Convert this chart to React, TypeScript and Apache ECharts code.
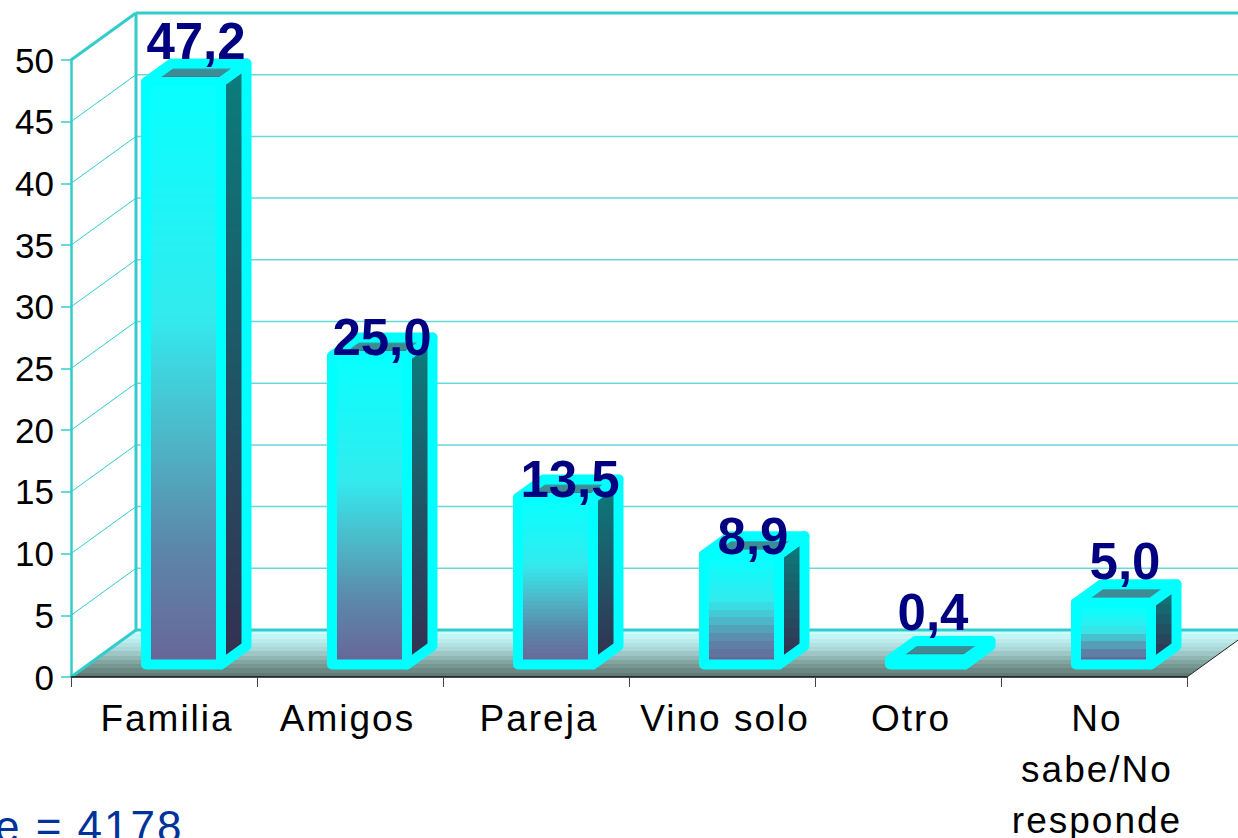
import React, { useEffect, useRef } from "react";
import * as echarts from "echarts";

const categories = ["Familia", "Amigos", "Pareja", "Vino solo", "Otro", "No\nsabe/No\nresponde"];
const values = [47.2, 25.0, 13.5, 8.9, 0.4, 5.0];
const yTicks = [0, 5, 10, 15, 20, 25, 30, 35, 40, 45, 50];
const note = "e = 4178";

// layout of the hand-placed value labels (pixels relative to the bar)
const labelLift = [23, 1, 0, 0, 29, 23];
const labelShift = [32, 32, 34, 31, 25, 31];

const FONT = '"Liberation Sans", Arial, sans-serif';
const TEAL = "#33cccc";
const WALL_DX = 65;
const WALL_DY = -47;
const BAR_DX = 25.5;
const BAR_DY = -18.5;
const BAR_W = 75;
const BAR_OFF_X = -18; // front face left edge from band centre
const BAR_OFF_Y = -12.5;

type RGB = [number, number, number];
type Ramp = [number, RGB][];

const FRONT_RAMP: Ramp = [
  [0, [8, 255, 255]],
  [0.4, [50, 235, 238]],
  [0.6, [76, 186, 202]],
  [0.8, [92, 135, 170]],
  [1, [104, 102, 152]],
];
const SIDE_RAMP: Ramp = [
  [0, [10, 125, 125]],
  [1, [52, 48, 80]],
];
const TOP_RAMP: Ramp = [
  [0, [50, 155, 160]],
  [1, [72, 122, 138]],
];
const FLOOR_RAMP: Ramp = [
  [0, [204, 255, 255]],
  [0.4, [170, 215, 215]],
  [0.7, [130, 165, 160]],
  [1, [96, 122, 118]],
];

function sample(ramp: Ramp, t: number) {
  for (let k = 1; k < ramp.length; k++) {
    if (t <= ramp[k][0]) {
      const [a, ca] = ramp[k - 1];
      const [b, cb] = ramp[k];
      const u = (t - a) / (b - a);
      return ca.map((v, n) => Math.round(v + (cb[n] - v) * u));
    }
  }
  return ramp[ramp.length - 1][1];
}

function steppedGradient(ramp: Ramp, steps: number) {
  const stops: { offset: number; color: string }[] = [];
  for (let i = 0; i < steps; i++) {
    const c = sample(ramp, steps === 1 ? 0 : i / (steps - 1));
    const color = `rgb(${c[0]},${c[1]},${c[2]})`;
    stops.push({ offset: i / steps, color });
    stops.push({ offset: (i + 1) / steps, color });
  }
  return new echarts.graphic.LinearGradient(0, 0, 0, 1, stops);
}

function renderWall(_p: any, api: any) {
  const [cx, y] = api.coord([0, api.value(1)]);
  const left = cx - api.size([1, 0])[0] / 2;
  const heavy = api.value(1) === 50 || api.value(1) === 0;
  return {
    type: "group",
    children: [
      {
        type: "line",
        shape: { x1: left, y1: y, x2: left + WALL_DX, y2: y + WALL_DY },
        style: { stroke: TEAL, lineWidth: heavy ? 3 : 1 },
      },
      {
        type: "line",
        shape: { x1: left + WALL_DX, y1: y + WALL_DY, x2: 1300, y2: y + WALL_DY },
        style: { stroke: TEAL, lineWidth: heavy ? 3 : 1.5, opacity: heavy ? 1 : 0.75 },
      },
    ],
  };
}

function renderFrame(_p: any, api: any) {
  const [cx, y0] = api.coord([0, 0]);
  const [, y50] = api.coord([0, 50]);
  const [cxLast] = api.coord([categories.length - 1, 0]);
  const half = api.size([1, 0])[0] / 2;
  const left = cx - half;
  const right = cxLast + half;
  return {
    type: "group",
    children: [
      {
        type: "polygon",
        shape: {
          points: [
            [left, y0],
            [left + WALL_DX, y0 + WALL_DY],
            [right + WALL_DX, y0 + WALL_DY],
            [right, y0],
          ],
        },
        style: { fill: steppedGradient(FLOOR_RAMP, 11) },
      },
      {
        type: "line",
        shape: { x1: left + WALL_DX, y1: y50 + WALL_DY, x2: left + WALL_DX, y2: y0 + WALL_DY },
        style: { stroke: TEAL, lineWidth: 3 },
      },
      {
        type: "line",
        shape: { x1: right, y1: y0, x2: right + WALL_DX, y2: y0 + WALL_DY },
        style: { stroke: "#222", lineWidth: 1 },
      },
    ],
  };
}

function renderBar(_p: any, api: any) {
  const i = api.value(0);
  const v = api.value(1);
  const [cx, y0] = api.coord([i, 0]);
  const [, yv] = api.coord([i, v]);
  const x1 = cx + BAR_OFF_X;
  const x2 = x1 + BAR_W;
  const yb = y0 + BAR_OFF_Y;
  const yt = yv + BAR_OFF_Y;
  const h = yb - yt;
  const steps = Math.max(2, Math.round(h / (h > 120 ? 4 : 8)));
  const border = { stroke: "#00ffff", lineWidth: 10, lineJoin: "round" };
  const children: any[] = [];
  children.push({
    type: "polygon",
    shape: {
      points: [
        [x2, yb],
        [x2 + BAR_DX, yb + BAR_DY],
        [x2 + BAR_DX, yt + BAR_DY],
        [x2, yt],
      ],
    },
    style: { ...border, fill: steppedGradient(SIDE_RAMP, steps) },
  });
  children.push({
    type: "polygon",
    shape: {
      points: [
        [x1, yt],
        [x1 + BAR_DX, yt + BAR_DY],
        [x2 + BAR_DX, yt + BAR_DY],
        [x2, yt],
      ],
    },
    style: { ...border, fill: steppedGradient(TOP_RAMP, 3) },
  });
  children.push({
    type: "polygon",
    shape: {
      points: [
        [x1, yt],
        [x2, yt],
        [x2, yb],
        [x1, yb],
      ],
    },
    style: { ...border, fill: steppedGradient(FRONT_RAMP, steps) },
  });
  children.push({
    type: "text",
    x: cx + labelShift[i],
    y: yt - labelLift[i] - 18,
    style: {
      text: v.toFixed(1).replace(".", ","),
      fontFamily: FONT,
      fontWeight: "bold",
      fontSize: 51,
      fill: "#000080",
      align: "center",
      verticalAlign: "middle",
    },
  });
  return { type: "group", children };
}

export default function App() {
  const ref = useRef<HTMLDivElement>(null);
  useEffect(() => {
    if (!ref.current) return;
    const chart = echarts.init(ref.current, undefined, { renderer: "svg" });
    chart.setOption({
      animation: false,
      backgroundColor: "#ffffff",
      grid: { left: 71, top: 60, width: 1116, height: 617, outerBoundsMode: "none" },
      xAxis: {
        type: "category",
        data: categories.map((c) =>
          c === "Amigos" ? { value: c, textStyle: { padding: [0, 5, 0, 0] } } : c
        ),
        axisLine: { lineStyle: { color: "#111", width: 1.5 } },
        axisTick: { show: true, length: 10, alignWithLabel: false, lineStyle: { color: "#444", width: 1 } },
        axisLabel: {
          interval: 0,
          color: "#000",
          fontFamily: FONT,
          fontSize: 37,
          lineHeight: 51,
          margin: 16,
          padding: [0, 0, 0, 6],
        },
        z: 6,
      },
      yAxis: {
        type: "value",
        min: 0,
        max: 50,
        interval: 5,
        splitLine: { show: false },
        axisLine: { show: true, lineStyle: { color: TEAL, width: 2.5 } },
        axisTick: { show: true, length: 10, lineStyle: { color: TEAL, width: 1.5 } },
        axisLabel: { color: "#000", fontFamily: FONT, fontSize: 35, margin: 17 },
        z: 6,
      },
      graphic: [
        {
          type: "text",
          left: -5,
          top: 804,
          silent: true,
          style: { text: note, fontFamily: FONT, fontSize: 44, fill: "#003399" },
        },
      ],
      series: [
        {
          type: "custom",
          name: "frame",
          data: [[0, 0]],
          renderItem: renderFrame,
          encode: { x: 0, y: 1 },
          z: 1,
          silent: true,
        },
        {
          type: "custom",
          name: "wall",
          data: yTicks.map((t) => [0, t]),
          renderItem: renderWall,
          encode: { x: 0, y: 1 },
          z: 2,
          silent: true,
        },
        {
          type: "custom",
          name: "bars",
          data: values.map((v, i) => [i, v]),
          renderItem: renderBar,
          encode: { x: 0, y: 1 },
          z: 5,
        },
      ],
    });
    return () => chart.dispose();
  }, []);
  return (
    <>
      <style>{`#chart3d text[style*="37px"]{letter-spacing:2px}#chart3d text[style*="44px"]{letter-spacing:2px}`}</style>
      <div
        id="chart3d"
        ref={ref}
        style={{ position: "fixed", left: 0, top: 0, width: 1238, height: 838, overflow: "hidden" }}
      />
    </>
  );
}
